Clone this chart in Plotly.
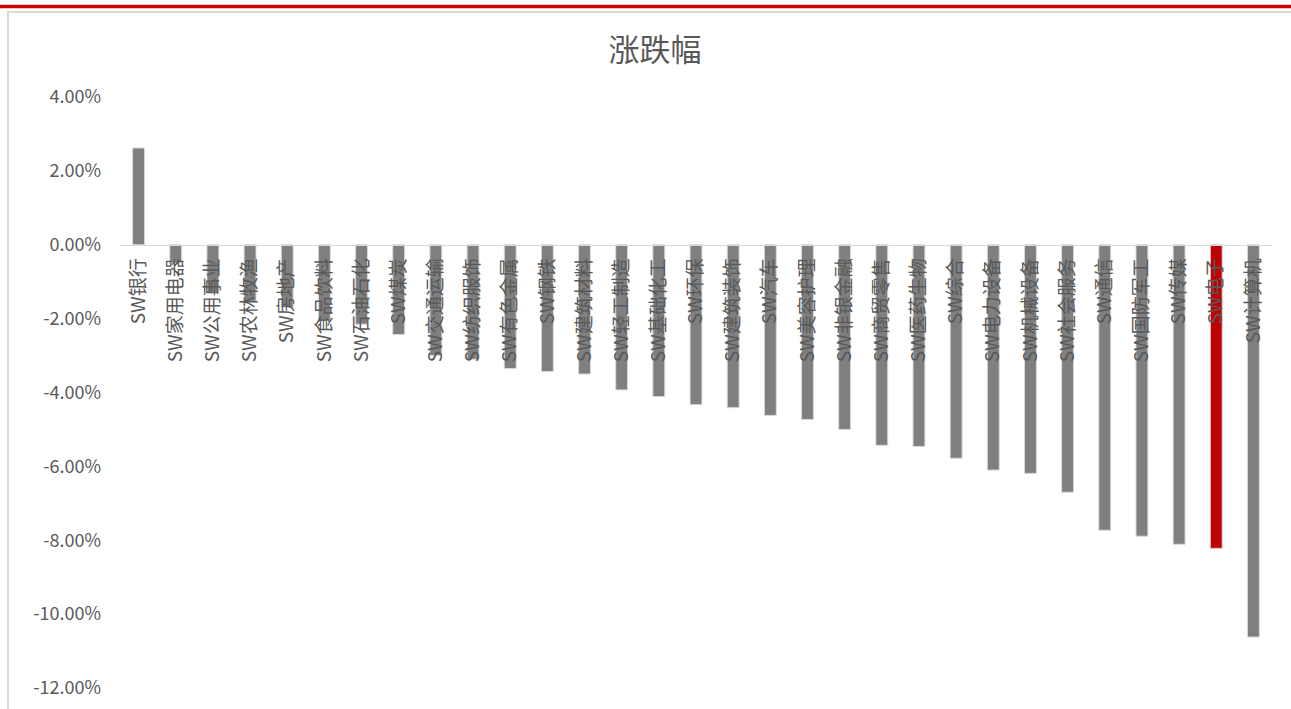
import plotly.graph_objects as go

categories = ["SW银行", "SW家用电器", "SW公用事业", "SW农林牧渔", "SW房地产", "SW食品饮料",
              "SW石油石化", "SW煤炭", "SW交通运输", "SW纺织服饰", "SW有色金属", "SW钢铁",
              "SW建筑材料", "SW轻工制造", "SW基础化工", "SW环保", "SW建筑装饰", "SW汽车",
              "SW美容护理", "SW非银金融", "SW商贸零售", "SW医药生物", "SW综合", "SW电力设备",
              "SW机械设备", "SW社会服务", "SW通信", "SW国防军工", "SW传媒", "SW电子", "SW计算机"]
values = [2.62, -0.49, -1.32, -1.53, -1.70, -2.05,
          -2.15, -2.43, -3.00, -3.10, -3.35, -3.43,
          -3.50, -3.93, -4.11, -4.33, -4.41, -4.62,
          -4.73, -5.00, -5.43, -5.46, -5.78, -6.10,
          -6.19, -6.70, -7.73, -7.89, -8.11, -8.22, -10.62]
highlight = "SW电子"
title_text = "涨跌幅"
y_ticks = [4, 2, 0, -2, -4, -6, -8, -10, -12]

W, H = 1291, 709
L, R, T, B = 120, 19, 97, 21
pw, ph = W - L - R, H - T - B

def px_x(x):
    return (x - L) / pw

def px_y(y):
    return (H - B - y) / ph

colors = ["#c00000" if c == highlight else "#7f7f7f" for c in categories]

fig = go.Figure(go.Bar(
    x=categories, y=values,
    marker=dict(color=colors, line=dict(color="#d9d9d9", width=1)),
    hoverinfo="x+y",
))

ymin, ymax = -12, 4
zero_pos = (0 - ymin) / (ymax - ymin)

fig.update_layout(
    width=W, height=H,
    margin=dict(l=L, r=R, t=T, b=B, autoexpand=False),
    paper_bgcolor="white", plot_bgcolor="white",
    showlegend=False,
    bargap=0.68,
    font=dict(family="Noto Sans CJK SC, Noto Sans, sans-serif", color="#595959"),
    title=dict(text=title_text, x=655 / W, xanchor="center", y=1 - 50 / H, yanchor="middle",
               font=dict(size=31, color="#595959", family="Noto Sans CJK SC")),
    xaxis=dict(
        anchor="free", position=zero_pos,
        showline=True, linecolor="#d9d9d9", linewidth=1,
        showgrid=False, zeroline=False, ticks="",
        tickangle=-90, tickfont=dict(size=19, color="#595959"),
        ticklabelstandoff=5,
        automargin=False,
    ),
    yaxis=dict(
        range=[ymin, ymax], tickvals=y_ticks,
        ticktext=[f"{v:.2f}%" for v in y_ticks],
        showgrid=False, zeroline=False, showline=False, ticks="",
        tickfont=dict(size=18, color="#595959"),
        ticklabelstandoff=18,
        automargin=False,
    ),
    shapes=[
        dict(type="line", xref="paper", yref="paper",
             x0=px_x(0), x1=px_x(W), y0=px_y(6.5), y1=px_y(6.5),
             line=dict(color="#cc0000", width=3.5)),
        dict(type="rect", xref="paper", yref="paper",
             x0=px_x(8), x1=px_x(W + 20), y0=px_y(H + 20), y1=px_y(12),
             line=dict(color="#d9d9d9", width=2), fillcolor="rgba(0,0,0,0)"),
    ],
)

fig.write_html("out.html")
